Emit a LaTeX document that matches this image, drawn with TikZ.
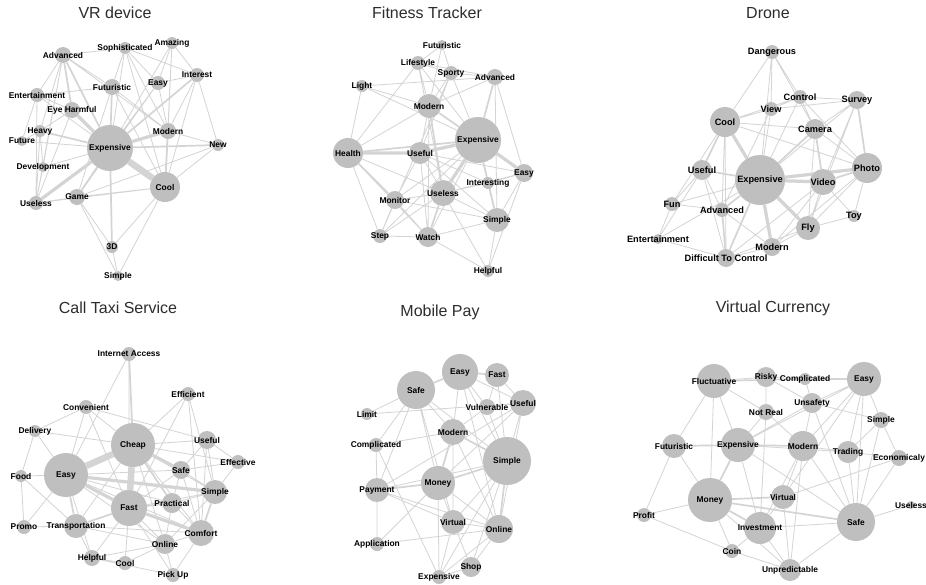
\documentclass[tikz,border=0pt]{standalone}
\usepackage{fontspec}
\setmainfont{Liberation Sans}
\usetikzlibrary{positioning}
\pgfdeclarelayer{bg}
\pgfdeclarelayer{edges}
\pgfsetlayers{bg,edges,main}
\definecolor{nodegray}{RGB}{191,191,191}
\definecolor{edgegray}{RGB}{212,212,212}
\definecolor{titlegray}{RGB}{45,45,45}
\newcommand\ctr[1]{\makebox[0pt]{#1}}

\begin{document}
\begin{tikzpicture}[
  x=1pt, y=-1pt,
  kw/.style={circle, fill=nodegray, inner sep=0pt, minimum size=#1,
             font=\bfseries\fontsize{8.4}{10}\selectfont},
  big/.style={font=\bfseries\fontsize{9.2}{10}\selectfont},
  ttl/.style={font=\fontsize{16}{18}\selectfont, text=titlegray, inner sep=0pt},
  lnk/.style={draw=edgegray, line width=0.8pt},
  lnk2/.style={draw=edgegray, line width=1.7pt},
  lnk3/.style={draw=edgegray, line width=3.2pt},
  lnk4/.style={draw=edgegray, line width=6.5pt},
]
\begin{pgfonlayer}{bg}
  \path[fill=white, use as bounding box] (0,0) rectangle (926,583);
\end{pgfonlayer}

% Panel 1: VR device
\node[ttl] (tVR) at (115,13) {VR device};
\node[kw=16pt] (vAdv) at (63,55) {\ctr{Advanced}};
\node[kw=12pt] (vSop) at (125,48) {\ctr{Sophisticated}};
\node[kw=12pt] (vAma) at (172,43) {\ctr{Amazing}};
\node[kw=14pt] (vInt) at (197,75) {\ctr{Interest}};
\node[kw=14pt] (vEasy) at (158,83) {\ctr{Easy}};
\node[kw=16pt] (vFut) at (112,87) {\ctr{Futuristic}};
\node[kw=14pt] (vEnt) at (37,95) {\ctr{Entertainment}};
\node[kw=16pt] (vEye) at (72,110) {\ctr{Eye Harmful}};
\node[kw=12pt] (vHea) at (40,131) {\ctr{Heavy}};
\node[kw=10pt] (vFutr) at (22,141) {\ctr{Future}};
\node[kw=16pt] (vMod) at (168,131) {\ctr{Modern}};
\node[kw=12pt] (vNew) at (218,145) {\ctr{New}};
\node[kw=46pt] (vExp) at (110,148) {\ctr{Expensive}};
\node[kw=10pt] (vDev) at (43,167) {\ctr{Development}};
\node[kw=30pt] (vCool) at (165,187) {\ctr{Cool}};
\node[kw=14pt] (vUse) at (36,203) {\ctr{Useless}};
\node[kw=16pt] (vGame) at (77,197) {\ctr{Game}};
\node[kw=12pt] (v3D) at (112,247) {\ctr{3D}};
\node[kw=10pt] (vSim) at (118,276) {\ctr{Simple}};

% Panel 2: Fitness Tracker
\node[ttl] (tFT) at (427,13) {Fitness Tracker};
\node[kw=10pt] (fFut) at (442,45) {\ctr{Futuristic}};
\node[kw=14pt] (fLife) at (418,63) {\ctr{Lifestyle}};
\node[kw=14pt] (fSpo) at (451,73) {\ctr{Sporty}};
\node[kw=16pt] (fAdv) at (495,77) {\ctr{Advanced}};
\node[kw=12pt] (fLight) at (362,86) {\ctr{Light}};
\node[kw=24pt] (fMod) at (429,106) {\ctr{Modern}};
\node[kw=46pt] (fExp) at (478,140) {\ctr{Expensive}};
\node[kw=30pt] (fHea) at (348,153) {\ctr{Health}};
\node[kw=22pt] (fUseful) at (420,153) {\ctr{Useful}};
\node[kw=18pt] (fEasy) at (524,173) {\ctr{Easy}};
\node[kw=12pt] (fInt) at (488,183) {\ctr{Interesting}};
\node[kw=26pt] (fUseless) at (443,193) {\ctr{Useless}};
\node[kw=18pt] (fMon) at (395,200) {\ctr{Monitor}};
\node[kw=24pt] (fSim) at (497,220) {\ctr{Simple}};
\node[kw=14pt] (fStep) at (380,236) {\ctr{Step}};
\node[kw=20pt] (fWat) at (428,237) {\ctr{Watch}};
\node[kw=12pt] (fHelp) at (488,271) {\ctr{Helpful}};

% Panel 3: Drone
\node[ttl] (tDr) at (768,13) {Drone};
\node[kw=14pt, big] (dDan) at (772,52) {\ctr{Dangerous}};
\node[kw=14pt, big] (dCon) at (800,97) {\ctr{Control}};
\node[kw=18pt, big] (dSur) at (857,100) {\ctr{Survey}};
\node[kw=14pt, big] (dView) at (771,109) {\ctr{View}};
\node[kw=30pt, big] (dCool) at (725,122) {\ctr{Cool}};
\node[kw=20pt, big] (dCam) at (815,129) {\ctr{Camera}};
\node[kw=50pt, big] (dExp) at (760,180) {\ctr{Expensive}};
\node[kw=30pt, big] (dPho) at (867,168) {\ctr{Photo}};
\node[kw=26pt, big] (dVid) at (823,182) {\ctr{Video}};
\node[kw=20pt, big] (dUseful) at (702,170) {\ctr{Useful}};
\node[kw=14pt, big] (dFun) at (672,204) {\ctr{Fun}};
\node[kw=14pt, big] (dAdv) at (722,210) {\ctr{Advanced}};
\node[kw=12pt, big] (dToy) at (854,216) {\ctr{Toy}};
\node[kw=24pt, big] (dFly) at (808,228) {\ctr{Fly}};
\node[kw=10pt, big] (dEnt) at (658,239) {\ctr{Entertainment}};
\node[kw=18pt, big] (dMod) at (772,247) {\ctr{Modern}};
\node[kw=18pt, big] (dDiff) at (726,258) {\ctr{Difficult To Control}};

% Panel 4: Call Taxi Service
\node[ttl] (tCT) at (118,308) {Call Taxi Service};
\node[kw=14pt] (tInt) at (129,354) {\ctr{Internet Access}};
\node[kw=14pt] (tEff) at (188,394) {\ctr{Efficient}};
\node[kw=14pt] (tConv) at (86,407) {\ctr{Convenient}};
\node[kw=12pt] (tDel) at (35,431) {\ctr{Delivery}};
\node[kw=44pt] (tCheap) at (133,445) {\ctr{Cheap}};
\node[kw=18pt] (tUseful) at (207,440) {\ctr{Useful}};
\node[kw=14pt] (tEffect) at (238,462) {\ctr{Effective}};
\node[kw=12pt] (tFood) at (21,476) {\ctr{Food}};
\node[kw=44pt] (tEasy) at (66,475) {\ctr{Easy}};
\node[kw=18pt] (tSafe) at (181,470) {\ctr{Safe}};
\node[kw=24pt] (tSim) at (215,492) {\ctr{Simple}};
\node[kw=36pt] (tFast) at (129,508) {\ctr{Fast}};
\node[kw=20pt] (tPrac) at (172,503) {\ctr{Practical}};
\node[kw=14pt] (tPromo) at (24,527) {\ctr{Promo}};
\node[kw=24pt] (tTrans) at (76,526) {\ctr{Transportation}};
\node[kw=26pt] (tComf) at (201,533) {\ctr{Comfort}};
\node[kw=20pt] (tOnl) at (165,544) {\ctr{Online}};
\node[kw=16pt] (tHelp) at (92,558) {\ctr{Helpful}};
\node[kw=14pt] (tCool) at (125,563) {\ctr{Cool}};
\node[kw=14pt] (tPick) at (173,575) {\ctr{Pick Up}};

% Panel 5: Mobile Pay
\node[ttl] (tMP) at (440,312) {Mobile Pay};
\node[kw=36pt] (mEasy) at (460,372) {\ctr{Easy}};
\node[kw=24pt] (mFast) at (497,375) {\ctr{Fast}};
\node[kw=38pt] (mSafe) at (416,390) {\ctr{Safe}};
\node[kw=26pt] (mUseful) at (523,403) {\ctr{Useful}};
\node[kw=16pt] (mVul) at (487,407) {\ctr{Vulnerable}};
\node[kw=12pt] (mLimit) at (367,414) {\ctr{Limit}};
\node[kw=26pt] (mMod) at (453,432) {\ctr{Modern}};
\node[kw=14pt] (mComp) at (376,445) {\ctr{Complicated}};
\node[kw=48pt] (mSim) at (507,461) {\ctr{Simple}};
\node[kw=34pt] (mMon) at (438,483) {\ctr{Money}};
\node[kw=24pt] (mPay) at (377,490) {\ctr{Payment}};
\node[kw=24pt] (mVir) at (453,522) {\ctr{Virtual}};
\node[kw=28pt] (mOnl) at (499,529) {\ctr{Online}};
\node[kw=14pt] (mApp) at (377,544) {\ctr{Application}};
\node[kw=20pt] (mShop) at (471,567) {\ctr{Shop}};
\node[kw=14pt] (mExp) at (439,577) {\ctr{Expensive}};

% Panel 6: Virtual Currency
\node[ttl] (tVC) at (773,308) {Virtual Currency};
\node[kw=34pt] (cFluc) at (714,381) {\ctr{Fluctuative}};
\node[kw=20pt] (cRisky) at (766,377) {\ctr{Risky}};
\node[kw=12pt] (cComp) at (805,379) {\ctr{Complicated}};
\node[kw=34pt] (cEasy) at (864,379) {\ctr{Easy}};
\node[kw=16pt] (cNot) at (766,412) {\ctr{Not Real}};
\node[kw=20pt] (cUnsafe) at (812,403) {\ctr{Unsafety}};
\node[kw=16pt] (cSim) at (881,420) {\ctr{Simple}};
\node[kw=24pt] (cFut) at (674,446) {\ctr{Futuristic}};
\node[kw=34pt] (cExp) at (738,445) {\ctr{Expensive}};
\node[kw=30pt] (cMod) at (803,446) {\ctr{Modern}};
\node[kw=22pt] (cTrad) at (848,452) {\ctr{Trading}};
\node[kw=16pt] (cEcon) at (899,458) {\ctr{Economicaly}};
\node[kw=44pt] (cMon) at (710,500) {\ctr{Money}};
\node[kw=24pt] (cVir) at (783,497) {\ctr{Virtual}};
\node[kw=14pt] (cProf) at (644,515) {\ctr{Profit}};
\node[kw=8pt] (cUseless) at (911,505) {\ctr{Useless}};
\node[kw=38pt] (cSafe) at (856,522) {\ctr{Safe}};
\node[kw=32pt] (cInv) at (760,528) {\ctr{Investment}};
\node[kw=14pt] (cCoin) at (732,551) {\ctr{Coin}};
\node[kw=22pt] (cUnp) at (790,570) {\ctr{Unpredictable}};

\begin{pgfonlayer}{edges}
% VR device links
\draw[lnk] (vAdv) -- (vSop) (vAdv) -- (vEnt) (vAdv) -- (vFut) (vAdv) -- (vMod)
  (vAdv) -- (vHea) (vAdv) -- (vUse) (vAdv) -- (vDev) (vSop) -- (vFut) (vSop) -- (vMod)
  (vSop) -- (vInt) (vSop) -- (vCool) (vSop) -- (vExp) (vAma) -- (vEasy) (vAma) -- (vInt)
  (vAma) -- (vExp) (vAma) -- (vMod) (vAma) -- (vCool) (vInt) -- (vEasy) (vInt) -- (vNew)
  (vInt) -- (vCool) (vInt) -- (vMod) (vEasy) -- (vExp) (vEasy) -- (vMod) (vEasy) -- (vGame)
  (vFut) -- (vMod) (vFut) -- (vCool) (vFut) -- (vGame) (vFut) -- (vEnt) (vEnt) -- (vEye)
  (vEnt) -- (vExp) (vEnt) -- (vFutr) (vEnt) -- (vUse) (vEye) -- (vHea) (vEye) -- (vUse)
  (vHea) -- (vFutr) (vHea) -- (vDev) (vHea) -- (vUse) (vFutr) -- (vExp) (vMod) -- (vNew)
  (vNew) -- (vCool) (vNew) -- (vGame) (vExp) -- (vDev) (vCool) -- (vGame) (vCool) -- (vUse)
  (vCool) -- (v3D) (vCool) -- (vSim) (vGame) -- (vUse) (vGame) -- (v3D) (vGame) -- (vSim)
  (v3D) -- (vSim) (vDev) -- (vUse) (vSop) -- (vEasy);
\draw[lnk2] (vExp) -- (vGame) (vExp) -- (vAdv) (vExp) -- (vFut) (vExp) -- (vInt)
  (vExp) -- (v3D) (vExp) -- (vNew) (vCool) -- (vMod) (vAdv) -- (vEye) (vHea) -- (vExp);
\draw[lnk3] (vExp) -- (vMod) (vExp) -- (vEye) (vExp) -- (vUse);
\draw[lnk4] (vExp) -- (vCool);

% Fitness Tracker links
\draw[lnk] (fFut) -- (fLife) (fFut) -- (fSpo) (fFut) -- (fMod) (fLife) -- (fSpo)
  (fLife) -- (fAdv) (fLife) -- (fMod) (fLife) -- (fExp) (fLife) -- (fHea) (fLife) -- (fUseless)
  (fSpo) -- (fAdv) (fSpo) -- (fMod) (fSpo) -- (fExp) (fSpo) -- (fUseful) (fSpo) -- (fStep)
  (fAdv) -- (fEasy) (fAdv) -- (fMod) (fAdv) -- (fLight) (fAdv) -- (fSim) (fLight) -- (fHea)
  (fLight) -- (fExp) (fLight) -- (fMod) (fMod) -- (fHea) (fMod) -- (fUseful) (fMod) -- (fWat)
  (fExp) -- (fInt) (fExp) -- (fMon) (fExp) -- (fWat) (fExp) -- (fStep) (fHea) -- (fUseless)
  (fHea) -- (fStep) (fUseful) -- (fUseless) (fUseful) -- (fInt) (fUseful) -- (fSim)
  (fUseful) -- (fMon) (fUseful) -- (fWat) (fUseful) -- (fEasy) (fEasy) -- (fInt)
  (fEasy) -- (fUseless) (fEasy) -- (fSim) (fEasy) -- (fHelp) (fInt) -- (fUseless)
  (fUseless) -- (fMon) (fUseless) -- (fSim) (fUseless) -- (fHelp) (fUseless) -- (fStep)
  (fMon) -- (fStep) (fMon) -- (fWat) (fMon) -- (fSim) (fStep) -- (fWat) (fWat) -- (fSim)
  (fWat) -- (fHelp) (fSim) -- (fHelp) (fHea) -- (fWat);
\draw[lnk2] (fMod) -- (fExp) (fAdv) -- (fExp) (fInt) -- (fSim) (fHea) -- (fExp)
  (fHea) -- (fMon) (fUseless) -- (fWat) (fMod) -- (fUseless) (fExp) -- (fSim);
\draw[lnk3] (fHea) -- (fUseful) (fUseful) -- (fExp) (fExp) -- (fUseless) (fExp) -- (fEasy);

% Drone links
\draw[lnk] (dDan) -- (dCool) (dDan) -- (dView) (dDan) -- (dCon) (dDan) -- (dExp)
  (dDan) -- (dCam) (dCon) -- (dSur) (dCon) -- (dCam) (dCon) -- (dExp) (dCon) -- (dCool)
  (dCon) -- (dPho) (dCon) -- (dView) (dView) -- (dCool) (dView) -- (dExp) (dView) -- (dSur)
  (dView) -- (dAdv) (dCool) -- (dAdv) (dCool) -- (dFun) (dCool) -- (dCam) (dCool) -- (dDiff)
  (dCool) -- (dPho) (dSur) -- (dExp) (dSur) -- (dCam) (dSur) -- (dVid) (dSur) -- (dFly)
  (dCam) -- (dPho) (dExp) -- (dFun) (dPho) -- (dToy) (dPho) -- (dFly) (dPho) -- (dMod)
  (dVid) -- (dFly) (dVid) -- (dToy) (dVid) -- (dMod) (dVid) -- (dDiff) (dUseful) -- (dFun)
  (dUseful) -- (dAdv) (dUseful) -- (dDiff) (dUseful) -- (dEnt) (dFun) -- (dAdv)
  (dFun) -- (dEnt) (dAdv) -- (dMod) (dEnt) -- (dDiff) (dEnt) -- (dExp) (dFly) -- (dMod)
  (dFly) -- (dToy) (dFly) -- (dDiff) (dMod) -- (dDiff) (dCam) -- (dFly);
\draw[lnk2] (dExp) -- (dCam) (dExp) -- (dAdv) (dExp) -- (dDiff) (dExp) -- (dUseful)
  (dCam) -- (dVid) (dVid) -- (dPho) (dSur) -- (dPho) (dAdv) -- (dDiff) (dCool) -- (dUseful);
\draw[lnk3] (dExp) -- (dVid) (dExp) -- (dPho) (dCool) -- (dExp) (dExp) -- (dFly)
  (dExp) -- (dMod);

% Call Taxi Service links
\draw[lnk] (tInt) -- (tEasy) (tInt) -- (tFast) (tEff) -- (tCheap) (tEff) -- (tSim)
  (tEff) -- (tComf) (tEff) -- (tFast) (tConv) -- (tCheap) (tConv) -- (tEasy) (tConv) -- (tFast)
  (tConv) -- (tDel) (tConv) -- (tUseful) (tDel) -- (tEasy) (tDel) -- (tFood) (tDel) -- (tCheap)
  (tCheap) -- (tUseful) (tCheap) -- (tSim) (tCheap) -- (tEffect) (tCheap) -- (tComf)
  (tCheap) -- (tTrans) (tCheap) -- (tOnl) (tEasy) -- (tFood) (tEasy) -- (tPromo)
  (tEasy) -- (tSafe) (tEasy) -- (tHelp) (tEasy) -- (tPrac) (tEasy) -- (tComf) (tEasy) -- (tOnl)
  (tFast) -- (tSafe) (tFast) -- (tSim) (tFast) -- (tOnl) (tFast) -- (tHelp) (tFast) -- (tCool)
  (tFast) -- (tPick) (tUseful) -- (tEffect) (tUseful) -- (tSafe) (tUseful) -- (tSim)
  (tUseful) -- (tComf) (tEffect) -- (tSim) (tEffect) -- (tSafe) (tSafe) -- (tSim)
  (tSafe) -- (tPrac) (tSafe) -- (tComf) (tSim) -- (tPrac) (tSim) -- (tOnl) (tPrac) -- (tComf)
  (tPrac) -- (tOnl) (tPromo) -- (tTrans) (tPromo) -- (tFood) (tFood) -- (tTrans)
  (tTrans) -- (tHelp) (tTrans) -- (tOnl) (tTrans) -- (tComf) (tComf) -- (tOnl) (tComf) -- (tPick)
  (tOnl) -- (tPick) (tOnl) -- (tHelp) (tHelp) -- (tCool) (tCool) -- (tOnl) (tPick) -- (tHelp);
\draw[lnk2] (tInt) -- (tCheap) (tCheap) -- (tPrac) (tFast) -- (tPrac) (tFast) -- (tTrans)
  (tSim) -- (tComf) (tEasy) -- (tTrans);
\draw[lnk3] (tEasy) -- (tFast) (tCheap) -- (tSafe) (tEasy) -- (tSim) (tFast) -- (tComf);
\draw[lnk4] (tCheap) -- (tEasy) (tCheap) -- (tFast);

% Mobile Pay links
\draw[lnk] (mEasy) -- (mUseful) (mEasy) -- (mVul) (mEasy) -- (mMod) (mEasy) -- (mSim)
  (mEasy) -- (mOnl) (mFast) -- (mUseful) (mFast) -- (mVul) (mFast) -- (mSim) (mSafe) -- (mLimit)
  (mSafe) -- (mMod) (mSafe) -- (mSim) (mSafe) -- (mMon) (mSafe) -- (mPay) (mSafe) -- (mComp)
  (mSafe) -- (mVir) (mUseful) -- (mVul) (mUseful) -- (mSim) (mUseful) -- (mMon)
  (mUseful) -- (mOnl) (mUseful) -- (mLimit) (mUseful) -- (mPay) (mVul) -- (mMod)
  (mVul) -- (mSim) (mMod) -- (mComp) (mMod) -- (mVir) (mMod) -- (mOnl) (mComp) -- (mPay)
  (mComp) -- (mExp) (mSim) -- (mVir) (mSim) -- (mShop) (mSim) -- (mExp) (mSim) -- (mPay)
  (mMon) -- (mVir) (mMon) -- (mOnl) (mMon) -- (mApp) (mMon) -- (mExp) (mPay) -- (mApp)
  (mPay) -- (mOnl) (mPay) -- (mVir) (mVir) -- (mOnl) (mVir) -- (mShop) (mVir) -- (mExp)
  (mOnl) -- (mApp) (mOnl) -- (mShop) (mOnl) -- (mExp) (mShop) -- (mExp);
\draw[lnk2] (mEasy) -- (mFast) (mEasy) -- (mSafe) (mMod) -- (mMon) (mSim) -- (mMon)
  (mSim) -- (mOnl) (mMon) -- (mPay) (mMod) -- (mSim);

% Virtual Currency links
\draw[lnk] (cFluc) -- (cRisky) (cFluc) -- (cFut) (cFluc) -- (cMon) (cFluc) -- (cExp)
  (cFluc) -- (cNot) (cRisky) -- (cComp) (cRisky) -- (cNot) (cRisky) -- (cUnsafe)
  (cComp) -- (cUnsafe) (cEasy) -- (cUnsafe) (cEasy) -- (cSim) (cEasy) -- (cMod)
  (cEasy) -- (cTrad) (cEasy) -- (cSafe) (cEasy) -- (cVir) (cEasy) -- (cExp) (cNot) -- (cExp)
  (cNot) -- (cMod) (cNot) -- (cInv) (cUnsafe) -- (cExp) (cUnsafe) -- (cMod) (cUnsafe) -- (cSafe)
  (cUnsafe) -- (cSim) (cSim) -- (cEcon) (cSim) -- (cSafe) (cSim) -- (cTrad) (cFut) -- (cMon)
  (cFut) -- (cProf) (cExp) -- (cInv) (cExp) -- (cSafe) (cExp) -- (cTrad) (cMod) -- (cTrad)
  (cMod) -- (cVir) (cMod) -- (cSafe) (cMod) -- (cUnp) (cMod) -- (cInv) (cTrad) -- (cEcon)
  (cTrad) -- (cSafe) (cEcon) -- (cSafe) (cEcon) -- (cVir) (cMon) -- (cProf) (cMon) -- (cCoin)
  (cMon) -- (cUnp) (cVir) -- (cInv) (cVir) -- (cUnp) (cProf) -- (cCoin) (cUseless) -- (cSafe)
  (cSafe) -- (cInv) (cSafe) -- (cUnp) (cInv) -- (cUnp) (cInv) -- (cCoin) (cCoin) -- (cUnp);
\draw[lnk2] (cFluc) -- (cComp) (cComp) -- (cEasy) (cExp) -- (cMon) (cMon) -- (cVir)
  (cMon) -- (cSafe) (cMon) -- (cInv) (cFut) -- (cExp) (cExp) -- (cMod);
\end{pgfonlayer}
\end{tikzpicture}
\end{document}
